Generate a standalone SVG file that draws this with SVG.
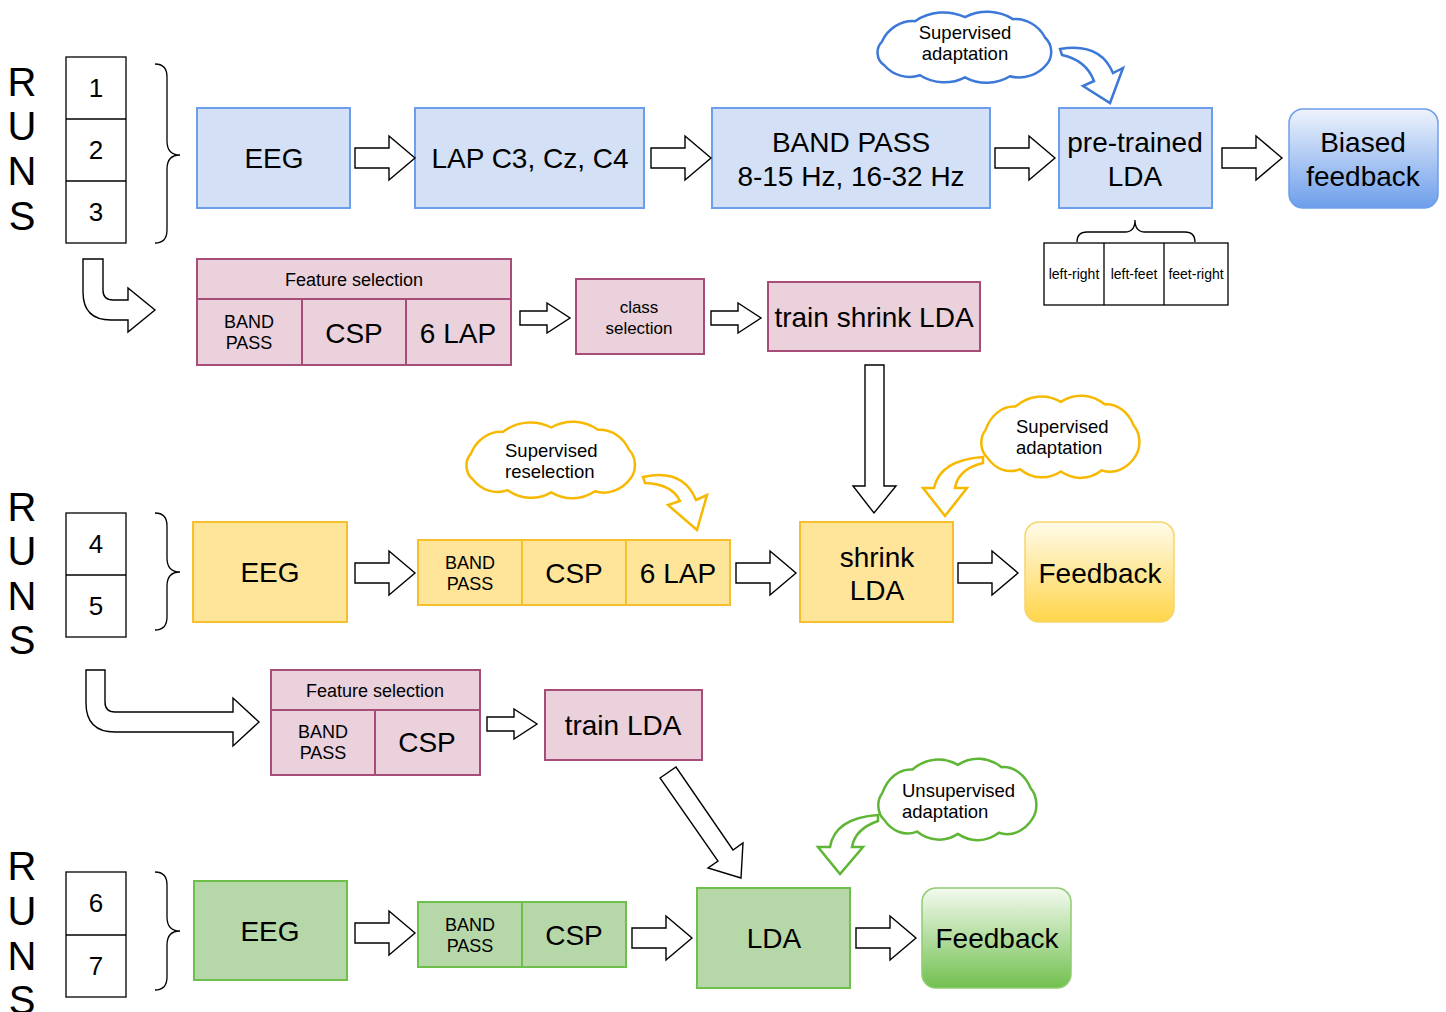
<svg xmlns="http://www.w3.org/2000/svg" xmlns:xlink="http://www.w3.org/1999/xlink" width="1446" height="1012" viewBox="0 0 1446 1012">
<style>
text{font-family:"Liberation Sans",Arial,sans-serif;fill:#000;text-anchor:middle}
.big{font-size:28px}
.runs{font-size:40px}
.num{font-size:26px}
.mid{font-size:18px}
.sm{font-size:14px}
.cl{font-size:18.5px;text-anchor:start}
.blue{fill:#d3e0f5;stroke:#6d9eeb;stroke-width:2}
.pink{fill:#ead1dc;stroke:#a64d79;stroke-width:2}
.yel{fill:#ffe599;stroke:#f6c02c;stroke-width:2}
.grn{fill:#b6d7a8;stroke:#6fbf4c;stroke-width:2}
.box{fill:#fff;stroke:#000;stroke-width:1.3}
.arr{fill:#fff;stroke:#000;stroke-width:1.4;stroke-linejoin:miter}
.brace{fill:none;stroke:#000;stroke-width:1.3}
</style>
<defs>
<path id="rarrow" d="M0,-10 H34 V-22 L60,0 L34,22 V10 H0 Z"/>
<path id="sarrow" d="M0,-7 H27 V-15 L50,0 L27,15 V7 H0 Z"/>
<path id="cloud" vector-effect="non-scaling-stroke" d="M7,29 A34,34 0 0 1 40,9 A52,52 0 0 1 90,5 A50,50 0 0 1 138,7 A34,34 0 0 1 170,25 A19,19 0 0 1 172,51 A36,36 0 0 1 135,63 A46,46 0 0 1 90,64 A46,46 0 0 1 45,62 A34,34 0 0 1 9,52 A15,15 0 0 1 7,29 Z"/>
<linearGradient id="gBlue" x1="0" y1="0" x2="0" y2="1"><stop offset="0" stop-color="#eef3fc"/><stop offset="1" stop-color="#6d9eeb"/></linearGradient>
<linearGradient id="gYel" x1="0" y1="0" x2="0" y2="1"><stop offset="0" stop-color="#fffbea"/><stop offset="1" stop-color="#ffd54a"/></linearGradient>
<linearGradient id="gGrn" x1="0" y1="0" x2="0" y2="1"><stop offset="0" stop-color="#f3faef"/><stop offset="1" stop-color="#72c04f"/></linearGradient>
</defs>
<rect width="1446" height="1012" fill="#fff"/>

<!-- RUNS labels -->
<g id="runs1">
<text class="runs" x="22" y="96">R</text><text class="runs" x="22" y="140">U</text><text class="runs" x="22" y="185">N</text><text class="runs" x="22" y="230">S</text>
<rect class="box" x="66" y="57" width="60" height="186"/>
<line x1="66" y1="119" x2="126" y2="119" stroke="#000" stroke-width="1.3"/>
<line x1="66" y1="181" x2="126" y2="181" stroke="#000" stroke-width="1.3"/>
<text class="num" x="96" y="97">1</text><text class="num" x="96" y="159">2</text><text class="num" x="96" y="221">3</text>
<path class="brace" d="M155,64 Q167,64 167,77 L167,141 Q167,155 180,155 Q167,155 167,169 L167,230 Q167,243 155,243"/>
</g>
<g id="runs2">
<text class="runs" x="22" y="521">R</text><text class="runs" x="22" y="565">U</text><text class="runs" x="22" y="610">N</text><text class="runs" x="22" y="654">S</text>
<rect class="box" x="66" y="513" width="60" height="124"/>
<line x1="66" y1="575" x2="126" y2="575" stroke="#000" stroke-width="1.3"/>
<text class="num" x="96" y="553">4</text><text class="num" x="96" y="615">5</text>
<path class="brace" d="M155,513 Q167,513 167,526 L167,558 Q167,572 180,572 Q167,572 167,586 L167,617 Q167,630 155,630"/>
</g>
<g id="runs3">
<text class="runs" x="22" y="880">R</text><text class="runs" x="22" y="925">U</text><text class="runs" x="22" y="970">N</text><text class="runs" x="22" y="1014">S</text>
<rect class="box" x="66" y="872" width="60" height="125"/>
<line x1="66" y1="935" x2="126" y2="935" stroke="#000" stroke-width="1.3"/>
<text class="num" x="96" y="912">6</text><text class="num" x="96" y="975">7</text>
<path class="brace" d="M155,872 Q167,872 167,885 L167,917 Q167,931 180,931 Q167,931 167,945 L167,977 Q167,990 155,990"/>
</g>

<!-- Row 1 -->
<g id="eeg1"><rect class="blue" x="197" y="108" width="153" height="100"/><text class="big" x="274" y="168">EEG</text></g>
<g id="lap1"><rect class="blue" x="415" y="108" width="229" height="100"/><text class="big" x="530" y="168">LAP C3, Cz, C4</text></g>
<g id="bp1"><rect class="blue" x="712" y="108" width="278" height="100"/><text class="big" x="851" y="152">BAND PASS</text><text class="big" x="851" y="186">8-15 Hz, 16-32 Hz</text></g>
<g id="lda1"><rect class="blue" x="1059" y="108" width="153" height="100"/><text class="big" x="1135" y="152">pre-trained</text><text class="big" x="1135" y="186">LDA</text></g>
<g id="fb1"><rect x="1289" y="109" width="149" height="99" rx="14" fill="url(#gBlue)" stroke="#6d9eeb" stroke-width="1.5"/><text class="big" x="1363" y="152">Biased</text><text class="big" x="1363" y="186">feedback</text></g>
<g id="cloud1"><use xlink:href="#cloud" transform="translate(875,12) scale(1,1.02)" fill="#fff" stroke="#3c78d8" stroke-width="2.5"/><text class="mid" style="font-size:18.5px" x="965" y="39">Supervised</text><text class="mid" style="font-size:18.5px" x="965" y="60">adaptation</text></g>
<g id="classes">
<path class="brace" d="M1077,242 Q1077,232 1087,232 L1125,232 Q1135,232 1135,220 Q1135,232 1145,232 L1185,232 Q1195,232 1195,242"/>
<rect class="box" x="1044" y="243" width="184" height="62"/>
<line x1="1104" y1="243" x2="1104" y2="305" stroke="#000" stroke-width="1.3"/>
<line x1="1164" y1="243" x2="1164" y2="305" stroke="#000" stroke-width="1.3"/>
<text class="sm" x="1074" y="279">left-right</text><text class="sm" x="1134" y="279">left-feet</text><text class="sm" x="1196" y="279">feet-right</text>
</g>

<!-- Row 1b -->
<g id="fs1">
<rect class="pink" x="197" y="259" width="314" height="106"/>
<line x1="197" y1="299" x2="511" y2="299" stroke="#a64d79" stroke-width="2"/>
<line x1="302" y1="299" x2="302" y2="365" stroke="#a64d79" stroke-width="2"/>
<line x1="406" y1="299" x2="406" y2="365" stroke="#a64d79" stroke-width="2"/>
<text class="mid" x="354" y="286">Feature selection</text>
<text class="mid" x="249" y="328">BAND</text><text class="mid" x="249" y="349">PASS</text>
<text class="big" x="354" y="343">CSP</text><text class="big" x="458" y="343">6 LAP</text>
</g>
<g id="cs1"><rect class="pink" x="576" y="279" width="128" height="75"/><text style="font-size:17px" x="639" y="313">class</text><text style="font-size:17px" x="639" y="334">selection</text></g>
<g id="tsl"><rect class="pink" x="768" y="282" width="212" height="69"/><text class="big" x="874" y="327">train shrink LDA</text></g>

<!-- Row 2 -->
<g id="eeg2"><rect class="yel" x="193" y="522" width="154" height="100"/><text class="big" x="270" y="582">EEG</text></g>
<g id="feat2">
<rect class="yel" x="418" y="540" width="312" height="65"/>
<line x1="522" y1="540" x2="522" y2="605" stroke="#f6c02c" stroke-width="2"/>
<line x1="626" y1="540" x2="626" y2="605" stroke="#f6c02c" stroke-width="2"/>
<text class="mid" x="470" y="569">BAND</text><text class="mid" x="470" y="590">PASS</text>
<text class="big" x="574" y="583">CSP</text><text class="big" x="678" y="583">6 LAP</text>
</g>
<g id="slda"><rect class="yel" x="800" y="522" width="153" height="100"/><text class="big" x="877" y="567">shrink</text><text class="big" x="877" y="600">LDA</text></g>
<g id="fb2"><rect x="1025" y="522" width="149" height="100" rx="14" fill="url(#gYel)" stroke="#f7d56b" stroke-width="1.5"/><text class="big" x="1100" y="583">Feedback</text></g>
<g id="cloud2"><use xlink:href="#cloud" transform="translate(464,422) scale(0.97,1.1)" fill="#fff" stroke="#f7b900" stroke-width="2.5"/><text class="cl" x="505" y="457">Supervised</text><text class="cl" x="505" y="478">reselection</text></g>
<g id="cloud3"><use xlink:href="#cloud" transform="translate(979,396) scale(0.91,1.18)" fill="#fff" stroke="#f7b900" stroke-width="2.5"/><text class="cl" x="1016" y="433">Supervised</text><text class="cl" x="1016" y="454">adaptation</text></g>

<!-- Row 2b -->
<g id="fs2">
<rect class="pink" x="271" y="670" width="209" height="105"/>
<line x1="271" y1="710" x2="480" y2="710" stroke="#a64d79" stroke-width="2"/>
<line x1="375" y1="710" x2="375" y2="775" stroke="#a64d79" stroke-width="2"/>
<text class="mid" x="375" y="697">Feature selection</text>
<text class="mid" x="323" y="738">BAND</text><text class="mid" x="323" y="759">PASS</text>
<text class="big" x="427" y="752">CSP</text>
</g>
<g id="tlda"><rect class="pink" x="545" y="690" width="157" height="70"/><text class="big" x="623" y="735">train LDA</text></g>

<!-- Row 3 -->
<g id="eeg3"><rect class="grn" x="194" y="881" width="153" height="99"/><text class="big" x="270" y="941">EEG</text></g>
<g id="feat3">
<rect class="grn" x="418" y="902" width="208" height="65"/>
<line x1="522" y1="902" x2="522" y2="967" stroke="#6fbf4c" stroke-width="2"/>
<text class="mid" x="470" y="931">BAND</text><text class="mid" x="470" y="952">PASS</text>
<text class="big" x="574" y="945">CSP</text>
</g>
<g id="lda3"><rect class="grn" x="697" y="888" width="153" height="100"/><text class="big" x="774" y="948">LDA</text></g>
<g id="fb3"><rect x="922" y="888" width="149" height="100" rx="14" fill="url(#gGrn)" stroke="#8fcb71" stroke-width="1.5"/><text class="big" x="997" y="948">Feedback</text></g>
<g id="cloud4"><use xlink:href="#cloud" transform="translate(876,759) scale(0.91,1.17)" fill="#fff" stroke="#5fb536" stroke-width="2.5"/><text class="cl" x="902" y="797">Unsupervised</text><text class="cl" x="902" y="818">adaptation</text></g>

<!-- Connectors -->
<g id="connectors">
<use xlink:href="#rarrow" class="arr" x="355" y="158"/>
<use xlink:href="#rarrow" class="arr" x="651" y="158"/>
<use xlink:href="#rarrow" class="arr" x="995" y="158"/>
<use xlink:href="#rarrow" class="arr" x="1222" y="158"/>
<use xlink:href="#sarrow" class="arr" x="520" y="318"/>
<use xlink:href="#sarrow" class="arr" x="711" y="318"/>
<use xlink:href="#rarrow" class="arr" x="355" y="573"/>
<use xlink:href="#rarrow" class="arr" x="736" y="573"/>
<use xlink:href="#rarrow" class="arr" x="958" y="573"/>
<use xlink:href="#sarrow" class="arr" x="487" y="724"/>
<use xlink:href="#rarrow" class="arr" x="355" y="933"/>
<use xlink:href="#rarrow" class="arr" x="632" y="938"/>
<use xlink:href="#rarrow" class="arr" x="856" y="938"/>
<path class="arr" d="M83,259 H103 V290 Q103,300 113,300 H128 V288 L155,310 L128,332 V320 H111 Q83,320 83,292 Z"/>
<path class="arr" d="M86,670 H105 V702 Q105,712 115,712 H233 V698 L259,722 L233,746 V732 H115 Q86,732 86,703 Z"/>
<path class="arr" d="M865,365 H884 V486 H896 L874,513 L853,486 H865 Z"/>
<path class="arr" d="M660,778 L676,767 L733,850 L743,843 L741,878 L708,868 L718,861 Z"/>
<path fill="#fff" stroke="#3c78d8" stroke-width="2.5" stroke-linejoin="miter" d="M1060,49 Q1100,42 1113,73 L1123,68 L1110,103 L1083,86 L1094,81 Q1086,60 1062,55 Z"/>
<path fill="#fff" stroke="#f7b900" stroke-width="2.5" stroke-linejoin="miter" d="M643,477 Q683,468 696,500 L707,495 L697,530 L668,505 L680,501 Q672,484 645,483 Z"/>
<path fill="#fff" stroke="#f7b900" stroke-width="2.5" stroke-linejoin="miter" d="M983,457 Q940,460 934,488 L923,488 L945,516 L967,488 L955,488 Q958,469 983,463 Z"/>
<path fill="#fff" stroke="#5fb536" stroke-width="2.5" stroke-linejoin="miter" d="M878,815 Q835,818 830,847 L818,847 L840,874 L863,847 L852,847 Q855,829 878,821 Z"/>
</g>
</svg>
